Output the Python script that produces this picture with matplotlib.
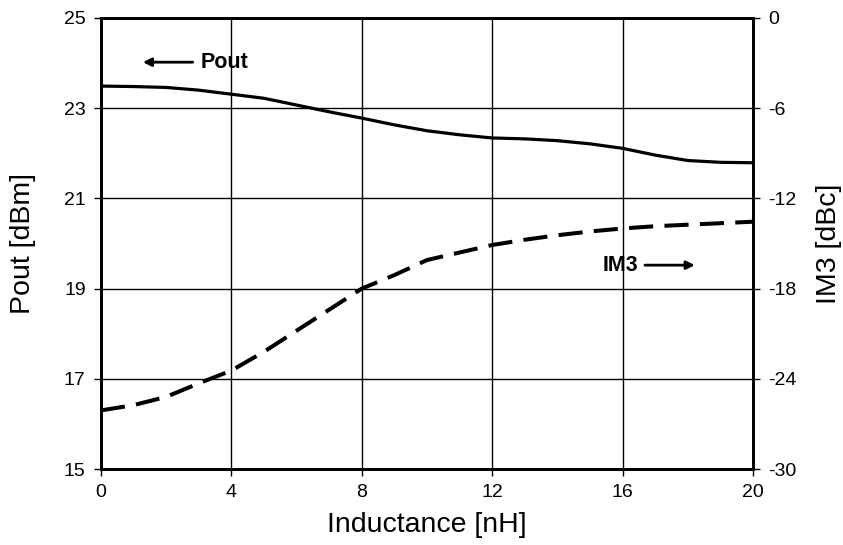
import matplotlib
matplotlib.use("Agg")
import matplotlib.pyplot as plt

plt.rcParams['font.family'] = ['Liberation Sans', 'DejaVu Sans']
plt.rcParams['axes.unicode_minus'] = False

inductance = list(range(0, 21))
pout_dbm = [23.49, 23.48, 23.46, 23.40, 23.31, 23.22, 23.07, 22.92, 22.78, 22.63, 22.50,
            22.41, 22.34, 22.32, 22.28, 22.21, 22.11, 21.96, 21.84, 21.80, 21.79]
im3_dbc = [-26.1, -25.75, -25.2, -24.3, -23.45, -22.2, -20.8, -19.4, -18.0, -17.1, -16.1,
           -15.6, -15.1, -14.75, -14.45, -14.2, -14.0, -13.85, -13.75, -13.65, -13.55]

x_ticks = [0, 4, 8, 12, 16, 20]
left_ticks = [15, 17, 19, 21, 23, 25]
right_ticks = [-30, -24, -18, -12, -6, 0]

fig = plt.figure(figsize=(8.43, 5.45), dpi=100)
ax = fig.add_axes([0.1198, 0.1394, 0.7734, 0.8276])
ax2 = ax.twinx()

ax.plot(inductance, pout_dbm, color='black', lw=2.3, solid_joinstyle='round')
ax2.plot(inductance, im3_dbc, color='black', lw=2.9, dashes=(6, 2.8))

ax.set_xlim(0, 20)
ax.set_ylim(15, 25)
ax2.set_ylim(-30, 0)
ax.set_xticks(x_ticks)
ax.set_yticks(left_ticks)
ax2.set_yticks(right_ticks)
ax.grid(True, color='black', lw=1.0)

for a in (ax, ax2):
    for s in a.spines.values():
        s.set_linewidth(2.0)
ax.tick_params(axis='both', labelsize=14, length=5, width=1.0, direction='out', pad=6)
ax2.tick_params(axis='y', labelsize=14, length=5, width=1.0, direction='out', pad=6)

ax.set_xlabel('Inductance [nH]', fontsize=20.5)
ax.set_ylabel('Pout [dBm]', fontsize=20.5)
ax2.set_ylabel('IM3 [dBc]', fontsize=20.5, rotation=90)
ax.xaxis.set_label_coords(0.5, -0.095)
ax.yaxis.set_label_coords(-0.100, 0.5)
ax2.yaxis.set_label_coords(1.096, 0.5)

ax.annotate('', xy=(1.2, 24.02), xytext=(2.9, 24.02),
            arrowprops=dict(arrowstyle='-|>', color='black', lw=2.0, mutation_scale=12))
ax.text(3.05, 24.02, 'Pout', fontsize=15.5, fontweight='bold', va='center', ha='left')
ax.annotate('', xy=(18.3, 19.52), xytext=(16.6, 19.52),
            arrowprops=dict(arrowstyle='-|>', color='black', lw=2.0, mutation_scale=12))
ax.text(16.47, 19.52, 'IM3', fontsize=15.5, fontweight='bold', va='center', ha='right')

fig.savefig('out.png', dpi=100)
